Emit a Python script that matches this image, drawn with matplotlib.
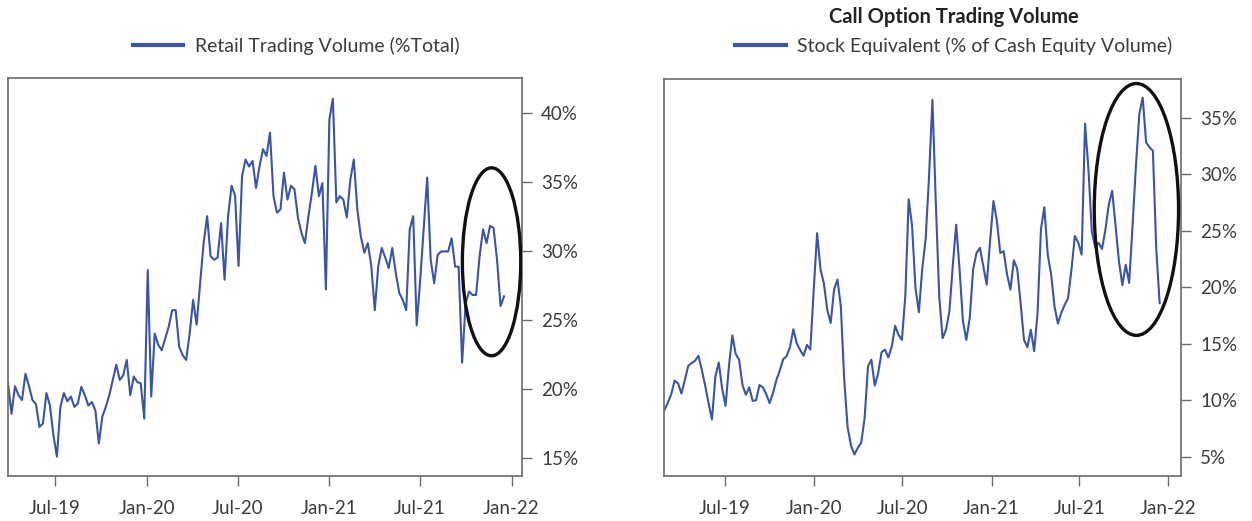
import numpy as np
import pandas as pd
import matplotlib
matplotlib.use("Agg")
import matplotlib.pyplot as plt
import matplotlib.dates as mdates
from matplotlib.patches import Ellipse
from matplotlib.lines import Line2D

# weekly readings, retail share of total volume (%)
retail_start = "2019-03-29"
retail_pct = [
    20.4, 18.2, 20.2, 19.55, 19.2, 21.1, 20.2, 19.2, 18.9, 17.25,
    17.5, 19.7, 18.8, 16.65, 15.1, 18.7, 19.7, 19.1, 19.45, 18.7,
    18.95, 20.15, 19.55, 18.8, 19.05, 18.45, 16.05, 18.0, 18.7, 19.55,
    20.65, 21.75, 20.65, 21.0, 22.1, 19.55, 20.9, 20.5, 20.4, 17.85,
    28.6, 19.45, 24.0, 23.2, 22.8, 23.65, 24.5, 25.7, 25.7, 23.05,
    22.45, 22.1, 24.0, 26.45, 24.65, 27.65, 30.55, 32.5, 29.6, 29.35,
    29.5, 32.0, 27.9, 32.5, 34.7, 34.0, 28.9, 35.4, 36.6, 36.1,
    36.5, 34.55, 36.1, 37.35, 36.85, 38.55, 33.95, 32.75, 33.0, 35.65,
    33.7, 34.7, 34.45, 32.4, 31.3, 30.55, 32.5, 34.2, 36.15, 33.95,
    34.9, 27.2, 39.5, 41.0, 33.5, 33.95, 33.7, 32.4, 35.15, 36.6,
    33.0, 31.05, 29.85, 30.55, 28.9, 25.7, 28.9, 30.2, 29.5, 28.75,
    30.2, 28.4, 26.95, 26.45, 25.7, 31.55, 32.5, 24.6, 27.9, 31.55,
    35.3, 29.35, 27.65, 29.7, 29.95, 29.95, 29.95, 30.9, 28.85, 28.85,
    21.9, 26.2, 27.05, 26.8, 26.8, 29.6, 31.55, 30.55, 31.8, 31.65,
    29.35, 26.0, 26.7,
]

# weekly readings, call options in stock equivalent (% of cash equity volume)
calls_start = "2019-02-26"
calls_pct = [
    9.15, 9.8, 10.55, 11.75, 11.5, 10.6, 11.8, 13.05, 13.3, 13.5,
    13.95, 12.7, 11.3, 9.75, 8.3, 12.1, 13.35, 11.05, 9.5, 13.0,
    15.75, 14.1, 13.6, 11.35, 10.5, 11.15, 9.95, 10.0, 11.35, 11.15,
    10.55, 9.75, 10.65, 11.8, 12.65, 13.65, 13.9, 14.7, 16.3, 15.05,
    14.45, 13.95, 14.9, 14.5, 19.8, 24.8, 21.6, 20.35, 18.0, 16.85,
    19.8, 20.7, 18.3, 11.8, 7.6, 6.0, 5.2, 5.8, 6.25, 8.4,
    13.0, 13.6, 11.3, 12.4, 14.25, 14.5, 13.8, 14.75, 16.6, 15.8,
    15.35, 19.2, 27.8, 25.45, 19.95, 17.8, 21.65, 24.3, 29.8, 36.6,
    27.5, 19.2, 15.5, 16.25, 17.9, 21.9, 25.55, 21.6, 17.0, 15.35,
    17.3, 21.6, 23.05, 23.5, 21.9, 20.25, 24.1, 27.65, 25.9, 23.05,
    23.2, 21.15, 19.8, 22.4, 21.65, 18.6, 15.35, 14.7, 16.25, 14.35,
    17.75, 25.15, 27.1, 22.9, 21.15, 18.3, 16.8, 17.75, 18.45, 19.05,
    21.6, 24.55, 23.95, 22.9, 34.5, 30.45, 24.9, 23.55, 23.95, 23.4,
    25.1, 27.35, 28.55, 25.45, 22.3, 20.2, 22.0, 20.4, 25.45, 30.75,
    35.35, 36.8, 32.85, 32.4, 32.1, 23.35, 18.6,
]

retail_ticks = [15, 20, 25, 30, 35, 40]
calls_ticks = [5, 10, 15, 20, 25, 30, 35]

# highlighted recent period: (center date, width days, center %, height %)
retail_oval = ("2021-11-22", 117, 29.2, 13.6)
calls_oval = ("2021-10-27", 174, 26.9, 22.3)

LINE = "#3a54a6"
TEXT = "#3c3c3c"
SPINE = "#6b6b6b"

plt.rcParams["font.family"] = ["Lato", "DejaVu Sans"]

retail_dates = pd.date_range(retail_start, periods=len(retail_pct), freq="7D")
calls_dates = pd.date_range(calls_start, periods=len(calls_pct), freq="7D")


def style_axis(ax, ticks, ylim, xlim):
    ax.set_xlim(pd.Timestamp(xlim[0]), pd.Timestamp(xlim[1]))
    ax.set_ylim(*ylim)
    ax.yaxis.tick_right()
    ax.set_yticks(ticks)
    ax.set_yticklabels([f"{t}%" for t in ticks])
    ax.xaxis.set_major_locator(mdates.MonthLocator(bymonth=[1, 7]))
    ax.xaxis.set_major_formatter(mdates.DateFormatter("%b-%y"))
    ax.tick_params(axis="both", direction="out", length=7.2, width=1,
                   color=SPINE, labelcolor=TEXT, labelsize=13.5)
    ax.tick_params(axis="x", pad=10)
    ax.tick_params(axis="y", pad=7)
    for s in ax.spines.values():
        s.set_color(SPINE)
        s.set_linewidth(1.2)


def add_oval(ax, oval):
    c, w, yc, h = oval
    e = Ellipse((mdates.date2num(pd.Timestamp(c)), yc), w, h,
                fill=False, edgecolor="#111111", linewidth=2.4, zorder=4)
    ax.add_patch(e)


fig = plt.figure(figsize=(12.52, 5.21), dpi=100)

ax1 = fig.add_axes([8 / 1252, 45 / 521, 513.5 / 1252, 398 / 521])
ax1.plot(retail_dates, retail_pct, color=LINE, linewidth=1.5)
style_axis(ax1, retail_ticks, (13.7, 42.5), ("2019-03-29", "2022-01-21"))
add_oval(ax1, retail_oval)

ax2 = fig.add_axes([664 / 1252, 45 / 521, 516.5 / 1252, 397 / 521])
ax2.plot(calls_dates, calls_pct, color=LINE, linewidth=1.5)
style_axis(ax2, calls_ticks, (3.3, 38.45), ("2019-02-25", "2022-01-26"))
add_oval(ax2, calls_oval)

h = [Line2D([], [], color=LINE, linewidth=3)]
fig.legend(h, ["Retail Trading Volume (%Total)"], loc="center",
           bbox_to_anchor=(296 / 1252, 1 - 46 / 521), frameon=False,
           fontsize=14, labelcolor=TEXT, handlelength=2.6, handletextpad=0.6)
fig.legend(h, ["Stock Equivalent (% of Cash Equity Volume)"], loc="center",
           bbox_to_anchor=(954 / 1252, 1 - 46 / 521), frameon=False,
           fontsize=14, labelcolor=TEXT, handlelength=2.6, handletextpad=0.6)
fig.text(954 / 1252, 1 - 17 / 521, "Call Option Trading Volume", ha="center",
         va="center", fontsize=14.5, fontweight="bold", color="#222222")

fig.savefig("out.png", dpi=100)
